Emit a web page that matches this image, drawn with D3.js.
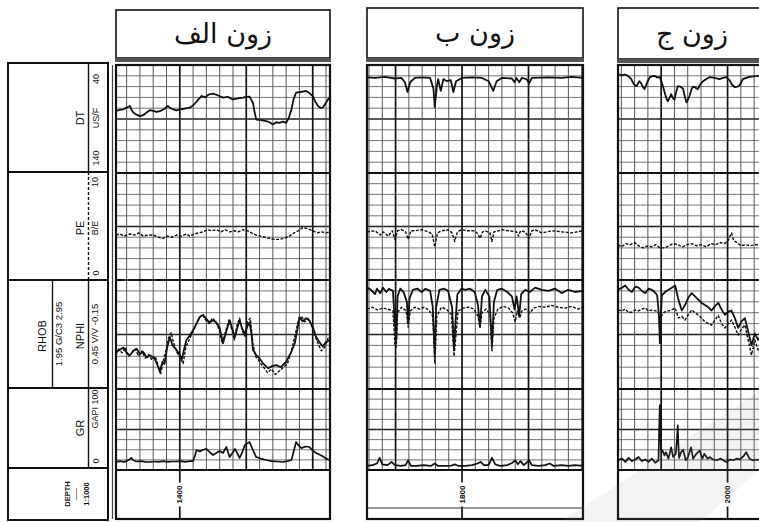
<!DOCTYPE html>
<html><head><meta charset="utf-8">
<script src="https://cdn.jsdelivr.net/npm/d3@7"></script>
<style>body{margin:0;background:#fff}svg{display:block}</style>
</head><body><svg id="c" width="759" height="522"></svg>
<script>
// ---------------- DATA ----------------
const trackTitles = ["زون الف", "زون ب", "زون ج"];
const depthDomains = [[1390.4, 1422.6], [1785.7, 1818.2], [1983.5, 2009.4]];
const depthLabels = [1400, 1800, 2000];
const dtScaleVals = [140, 40];
const peScaleVals = [0, 10];
const rhobScaleVals = [1.95, 2.95];
const nphiScaleVals = [0.45, -0.15];
const grScaleVals = [0, 100];

// Track 1 (زون الف)
const dt1 = [[1390.4,82.7],[1390.9,81.5],[1391.5,81],[1392,79.5],[1392.5,78],[1392.8,82],[1393,84],[1393.5,86],[1394,87.4],[1394.5,86.5],[1395,84],[1395.5,81.8],[1396,82.5],[1396.5,83.5],[1397,82.7],[1397.6,81],[1398.2,78],[1398.6,80],[1399,81],[1399.5,82],[1400,81],[1400.7,80.5],[1401.5,79.5],[1402,77.5],[1402.5,74],[1402.8,71.8],[1403.3,68.7],[1403.8,70],[1404.3,67.5],[1405,66.5],[1405.7,68],[1406.5,70.2],[1407.2,69.5],[1408,71.8],[1408.8,71],[1409.5,70.2],[1410,69.5],[1410.5,69.3],[1411,74.9],[1411.3,85],[1411.5,90.5],[1412.2,91],[1413,92],[1413.5,93],[1414,95],[1414.5,93],[1415,93.5],[1415.5,92.5],[1416,93.5],[1416.4,89],[1416.8,81],[1417.1,72],[1417.5,65.5],[1418.2,65],[1419,64],[1419.5,66],[1420,68.7],[1420.4,74],[1420.8,78],[1421.2,79.8],[1421.5,79.5],[1422,75],[1422.3,71.8],[1422.6,70]];
const pe1 = [[1390.4,4.2],[1391.0,4.3],[1391.6,4.1],[1392.5,4.3],[1393.2,4.2],[1393.8,4.4],[1394.5,4.1],[1395.2,4.2],[1396,4.2],[1396.8,4.0],[1397.5,3.9],[1398.2,4.1],[1398.8,4.0],[1399.5,4.2],[1400.3,4.1],[1401,4.3],[1401.5,4.1],[1402.2,4.3],[1402.8,4.4],[1403.5,4.5],[1404.2,4.7],[1404.8,4.6],[1405.5,4.7],[1406.2,4.5],[1406.8,4.7],[1407.5,4.5],[1408.2,4.6],[1408.8,4.5],[1409.5,4.7],[1410.2,4.6],[1410.8,4.4],[1411.5,4.2],[1412.2,4.1],[1412.8,4.0],[1413.5,3.9],[1414.2,3.8],[1415,3.8],[1415.7,3.9],[1416.5,4.1],[1417.2,4.4],[1417.8,4.6],[1418.5,4.9],[1419.2,4.8],[1420,4.6],[1420.7,4.4],[1421.3,4.5],[1422,4.4],[1422.6,4.5]];
const rhob1 = [[1390.4,2.29],[1391.0,2.31],[1391.5,2.33],[1392.0,2.28],[1392.5,2.26],[1393.0,2.30],[1393.5,2.32],[1394.0,2.27],[1394.5,2.29],[1395.0,2.24],[1395.5,2.26],[1396.2,2.23],[1396.7,2.16],[1397.0,2.11],[1397.4,2.20],[1397.7,2.18],[1398.1,2.33],[1398.5,2.43],[1398.9,2.35],[1399.5,2.31],[1400.0,2.26],[1400.3,2.22],[1400.7,2.33],[1401.0,2.40],[1401.5,2.44],[1402.0,2.49],[1402.5,2.55],[1403.0,2.61],[1403.5,2.63],[1404.0,2.59],[1404.5,2.56],[1405.0,2.58],[1405.5,2.56],[1406.0,2.51],[1406.5,2.37],[1407.0,2.48],[1407.5,2.58],[1407.9,2.50],[1408.3,2.43],[1408.7,2.52],[1409.0,2.58],[1409.4,2.50],[1409.8,2.46],[1410.2,2.53],[1410.5,2.56],[1410.8,2.45],[1411.0,2.31],[1411.5,2.26],[1412.0,2.23],[1412.6,2.18],[1413.3,2.14],[1413.9,2.16],[1414.5,2.17],[1415.2,2.15],[1416.0,2.20],[1416.7,2.28],[1417.3,2.37],[1417.7,2.50],[1418.0,2.61],[1418.5,2.57],[1419.0,2.60],[1419.5,2.58],[1420.0,2.52],[1420.5,2.43],[1421.0,2.38],[1421.5,2.34],[1422.0,2.38],[1422.6,2.40]];
const nphi1 = [[1390.4,0.26],[1390.8,0.23],[1391.3,0.25],[1391.8,0.22],[1392.3,0.27],[1392.8,0.25],[1393.3,0.23],[1393.8,0.27],[1394.3,0.24],[1394.8,0.28],[1395.3,0.26],[1395.8,0.29],[1396.3,0.27],[1396.8,0.33],[1397.1,0.37],[1397.5,0.30],[1397.9,0.24],[1398.3,0.17],[1398.7,0.14],[1399.1,0.20],[1399.6,0.25],[1400.1,0.28],[1400.5,0.31],[1400.9,0.22],[1401.4,0.18],[1401.9,0.14],[1402.4,0.10],[1402.9,0.06],[1403.4,0.04],[1403.9,0.07],[1404.4,0.09],[1404.9,0.06],[1405.4,0.08],[1405.9,0.12],[1406.4,0.20],[1406.9,0.13],[1407.4,0.07],[1407.8,0.12],[1408.2,0.18],[1408.6,0.10],[1409.0,0.06],[1409.4,0.13],[1409.8,0.16],[1410.2,0.08],[1410.6,0.06],[1411.0,0.20],[1411.4,0.27],[1412.0,0.30],[1412.6,0.33],[1413.2,0.36],[1413.8,0.34],[1414.4,0.37],[1415.0,0.35],[1415.6,0.33],[1416.2,0.31],[1416.8,0.24],[1417.3,0.16],[1417.8,0.08],[1418.3,0.05],[1418.8,0.08],[1419.3,0.06],[1419.8,0.10],[1420.3,0.15],[1420.8,0.20],[1421.3,0.24],[1421.8,0.22],[1422.3,0.17],[1422.6,0.19]];
const gr1 = [[1390.4,10],[1391.0,11],[1391.6,10],[1392.0,11],[1392.4,13],[1392.7,15],[1393.0,12],[1393.5,10.5],[1394.2,11],[1394.8,10],[1395.5,9.9],[1396.2,10.5],[1396.8,10],[1397.5,11],[1398.2,10],[1398.8,10.5],[1399.5,10.5],[1400.2,11],[1400.8,10],[1401.5,11],[1402.0,11],[1402.3,18],[1402.5,24.7],[1403.0,23],[1403.5,25],[1404.0,26],[1404.5,22],[1405.0,18.5],[1405.5,21],[1406.0,23.5],[1406.5,21],[1407.0,28.4],[1407.5,16],[1408.0,22],[1408.3,26],[1408.7,20],[1409.0,14.8],[1409.4,22],[1409.8,31],[1410.2,33],[1410.5,34.6],[1411.0,24.7],[1411.5,16],[1412.2,14],[1413.0,12.3],[1413.8,11],[1414.6,10.5],[1415.5,9.9],[1416.2,11],[1416.8,12.3],[1417.1,22],[1417.5,34.6],[1417.9,30],[1418.3,27],[1418.9,29],[1419.5,28.4],[1420.0,24],[1420.5,21],[1421.0,19],[1421.5,17],[1422.0,14],[1422.6,12]];

// Track 2 (زون ب)
const dt2 = [[1785.7,51.5],[1786.9,52],[1788.4,51],[1789.9,52.5],[1790.9,52],[1791.4,56],[1791.8,65],[1792.2,56],[1792.9,52],[1793.9,51.5],[1795.2,52],[1795.7,62],[1795.9,79],[1796.2,60],[1796.4,53],[1796.8,64],[1797.2,53],[1797.7,55],[1798.3,54],[1798.7,65],[1799.1,55],[1800,52],[1801.5,51.5],[1803,52],[1804,55],[1804.7,64],[1805.2,55],[1806,52],[1807.5,52.5],[1807.9,56],[1808.2,52],[1808.6,56],[1809,52],[1809.7,53],[1810.1,57],[1810.5,52],[1813,51.5],[1815,52],[1816.5,51],[1818.2,52]];
const pe2 = [[1785.7,4.5],[1786.9,4.6],[1787.7,4.2],[1788.1,4.5],[1788.9,4.1],[1789.5,4.6],[1789.9,3.8],[1790.3,4.6],[1790.9,4.7],[1791.5,4.5],[1791.9,3.8],[1792.3,4.6],[1792.9,4.6],[1793.9,4.7],[1794.9,4.5],[1795.5,4.3],[1795.9,3.1],[1796.3,4.4],[1796.9,4.6],[1797.9,4.7],[1798.5,4.4],[1798.9,3.6],[1799.3,4.5],[1799.9,4.7],[1800.9,4.6],[1801.9,4.6],[1802.4,4.3],[1802.7,3.9],[1803.1,4.5],[1803.5,4.6],[1804.2,4.4],[1804.5,3.6],[1804.8,4.5],[1805.5,4.6],[1806,4.7],[1807,4.6],[1808.2,4.5],[1808.5,4.1],[1808.8,4.6],[1809.5,4.5],[1810.1,3.9],[1810.5,4.6],[1811,4.7],[1812,4.4],[1813.5,4.6],[1815,4.5],[1816.5,4.4],[1818.2,4.6]];
const rhob2 = [[1785.7,2.88],[1786.3,2.86],[1786.9,2.82],[1787.2,2.87],[1787.7,2.83],[1788.1,2.88],[1788.6,2.84],[1789.0,2.87],[1789.6,2.85],[1789.9,2.55],[1790.1,2.40],[1790.3,2.80],[1790.7,2.87],[1791.2,2.84],[1791.7,2.75],[1791.9,2.55],[1792.1,2.78],[1792.6,2.86],[1793.3,2.87],[1793.9,2.84],[1794.5,2.87],[1795.2,2.85],[1795.6,2.70],[1795.9,2.25],[1796.1,2.70],[1796.6,2.86],[1797.3,2.87],[1797.9,2.85],[1798.5,2.70],[1798.8,2.32],[1799.0,2.55],[1799.3,2.82],[1799.9,2.87],[1800.5,2.86],[1801.2,2.87],[1801.9,2.84],[1802.4,2.72],[1802.7,2.52],[1803.0,2.80],[1803.5,2.86],[1804.1,2.80],[1804.5,2.36],[1804.8,2.75],[1805.3,2.86],[1806.0,2.87],[1806.8,2.84],[1807.5,2.80],[1807.9,2.68],[1808.2,2.80],[1808.6,2.62],[1808.9,2.82],[1809.5,2.86],[1810.2,2.84],[1811.0,2.88],[1812.0,2.86],[1813.0,2.85],[1814.0,2.87],[1815.0,2.83],[1816.0,2.86],[1817.0,2.84],[1818.2,2.85]];
const nphi2 = [[1785.7,0.01],[1786.5,0.00],[1787.3,0.015],[1788.0,0.005],[1788.8,0.01],[1789.6,0.02],[1789.9,0.20],[1790.1,0.22],[1790.3,0.03],[1790.9,0.00],[1791.6,0.02],[1791.9,0.11],[1792.2,0.02],[1792.9,0.00],[1793.6,0.01],[1794.3,0.00],[1795.0,0.015],[1795.6,0.05],[1795.9,0.31],[1796.2,0.05],[1796.9,0.00],[1797.6,0.01],[1798.4,0.04],[1798.8,0.27],[1799.1,0.15],[1799.4,0.02],[1800.2,0.005],[1801.0,0.00],[1801.8,0.01],[1802.4,0.05],[1802.7,0.11],[1803.0,0.03],[1803.6,0.01],[1804.2,0.04],[1804.5,0.24],[1804.8,0.06],[1805.4,0.01],[1806.2,-0.005],[1807.0,0.005],[1807.6,0.03],[1808.0,0.08],[1808.3,0.02],[1808.7,0.06],[1809.0,0.02],[1809.6,0.01],[1810.2,0.03],[1810.8,0.005],[1811.6,-0.005],[1812.5,0.00],[1813.5,-0.01],[1814.5,0.00],[1815.5,0.005],[1816.5,-0.005],[1817.5,0.01],[1818.2,0.00]];
const gr2 = [[1785.7,5],[1786.5,6],[1787.2,8],[1787.6,15],[1788.0,7],[1788.8,6],[1789.4,10],[1789.9,6],[1790.8,5],[1791.5,6],[1791.9,12],[1792.3,5],[1793.2,5],[1794.2,6],[1795.3,5],[1795.9,8],[1796.4,5],[1797.4,5],[1798.4,5.5],[1798.9,7],[1799.5,5],[1800.5,5],[1801.5,6],[1802.3,8],[1802.8,10],[1803.3,6],[1804.0,6],[1804.5,15],[1805.0,7],[1805.8,5],[1806.8,6],[1807.6,9],[1808.0,12],[1808.4,7],[1808.8,11],[1809.3,6],[1810.1,12],[1810.5,6],[1811.5,5],[1812.5,6],[1813.2,8],[1813.8,5],[1815,6],[1816,5],[1817,6],[1818.2,5]];

// Track 3 (زون ج)
const dt3 = [[1983.5,48.4],[1984.0,49.5],[1984.5,48.8],[1985.0,50],[1985.5,53],[1985.9,58],[1986.3,59.6],[1986.7,55],[1987.0,57],[1987.3,61],[1987.5,62.4],[1987.9,56],[1988.3,51.2],[1988.6,50.5],[1989.0,50],[1989.4,51.5],[1989.8,51.2],[1990.2,58],[1990.5,65],[1990.8,71],[1991.0,73.6],[1991.3,70],[1991.5,67],[1991.8,71],[1992.0,72],[1992.3,64],[1992.5,59.6],[1992.9,60],[1993.3,62],[1993.6,70],[1993.8,74.6],[1994.1,71],[1994.3,68],[1994.6,62],[1994.8,60],[1995.2,61],[1995.5,62.4],[1995.9,58],[1996.3,55],[1996.8,53],[1997.3,51.2],[1998.0,52],[1998.8,53],[1999.3,52],[1999.8,51.2],[2000.3,54],[2000.6,57.8],[2001.1,60.6],[2001.5,60],[2001.8,59],[2002.3,53],[2002.8,52],[2003.3,51],[2004.3,50.3],[2004.8,50],[2005.5,51]];
const pe3 = [[1983.5,3.3],[1984.0,3.1],[1984.7,3.4],[1985.3,3.3],[1986.0,3.5],[1986.6,3.2],[1987.3,3.0],[1988.0,3.2],[1988.6,3.1],[1989.2,3.3],[1989.8,3.0],[1990.5,3.0],[1991.2,3.2],[1991.8,3.4],[1992.5,3.3],[1993.2,3.1],[1993.9,3.3],[1994.6,3.4],[1995.3,3.2],[1996.0,3.3],[1996.8,3.1],[1997.5,3.4],[1998.2,3.3],[1998.9,3.5],[1999.5,3.4],[2000.0,3.6],[2000.6,4.4],[2000.9,3.7],[2001.4,3.5],[2002.0,3.2],[2002.7,3.3],[2003.4,3.2],[2004.2,3.3],[2004.8,3.3],[2005.5,3.4]];
const rhob3 = [[1983.5,2.86],[1984.1,2.88],[1984.6,2.90],[1985.1,2.86],[1985.6,2.84],[1986.1,2.89],[1986.6,2.88],[1987.1,2.85],[1987.6,2.83],[1988.1,2.87],[1988.6,2.86],[1989.0,2.84],[1989.4,2.81],[1989.7,2.60],[1989.8,2.37],[1989.95,2.60],[1990.1,2.81],[1990.6,2.84],[1991.1,2.86],[1991.6,2.88],[1992.1,2.90],[1992.6,2.77],[1993.1,2.67],[1993.6,2.72],[1994.1,2.79],[1994.6,2.83],[1995.1,2.80],[1995.6,2.77],[1996.1,2.74],[1996.6,2.72],[1997.1,2.70],[1997.6,2.67],[1998.1,2.71],[1998.6,2.74],[1999.1,2.68],[1999.6,2.63],[2000.1,2.66],[2000.6,2.67],[2001.1,2.60],[2001.6,2.51],[2002.1,2.57],[2002.6,2.60],[2003.1,2.48],[2003.6,2.35],[2004.1,2.46],[2004.6,2.40],[2005.2,2.44]];
const nphi3 = [[1983.5,0.015],[1984.1,0.02],[1984.6,0.01],[1985.1,0.03],[1985.6,0.026],[1986.1,0.015],[1986.6,0.02],[1987.1,0.01],[1987.6,0.004],[1988.1,0.02],[1988.6,0.015],[1989.2,0.02],[1989.6,0.03],[1989.8,0.15],[1990.0,0.05],[1990.5,0.026],[1991.1,0.02],[1991.6,0.015],[1992.1,0.004],[1992.6,0.059],[1993.1,0.05],[1993.6,0.07],[1994.1,0.04],[1994.6,0.015],[1995.1,0.03],[1995.6,0.043],[1996.1,0.06],[1996.6,0.081],[1997.1,0.09],[1997.6,0.098],[1998.1,0.07],[1998.6,0.045],[1999.1,0.09],[1999.6,0.114],[2000.1,0.09],[2000.6,0.07],[2001.1,0.11],[2001.6,0.153],[2002.1,0.12],[2002.6,0.098],[2003.1,0.18],[2003.6,0.263],[2004.1,0.18],[2004.6,0.235],[2005.2,0.21]];
const gr3 = [[1983.5,12],[1984.1,14],[1984.6,10],[1985.1,15],[1985.6,11],[1986.1,13],[1986.6,16],[1987.1,11],[1987.6,13],[1988.1,10],[1988.6,14],[1989.1,9],[1989.6,12],[1989.7,50],[1989.8,80],[1989.9,40],[1990.0,25],[1990.2,24],[1990.5,18],[1990.7,22],[1991.1,14],[1991.5,28],[1991.8,16],[1992.2,20],[1992.4,40],[1992.5,55],[1992.6,30],[1992.7,15],[1993.0,22],[1993.3,25],[1993.7,12],[1994.0,15],[1994.5,28],[1994.8,14],[1995.3,20],[1995.8,24],[1996.2,14],[1996.5,20],[1997.0,14],[1997.3,16],[1997.8,13],[1998.3,12],[1999.0,14],[1999.8,10],[2000.4,13],[2000.8,12],[2001.4,14],[2001.8,13],[2002.4,17],[2002.8,22],[2003.3,14],[2003.8,12],[2004.8,13],[2005.5,12]];

const tracksData = [
  {dt: dt1, pe: pe1, rhob: rhob1, nphi: nphi1, gr: gr1},
  {dt: dt2, pe: pe2, rhob: rhob2, nphi: nphi2, gr: gr2},
  {dt: dt3, pe: pe3, rhob: rhob3, nphi: nphi3, gr: gr3}
];

// ---------------- LAYOUT ----------------
const trackX = [[116, 330], [367, 583], [618, 790]];
const rowY = [65, 173, 280, 389, 470, 519];
const rowDiv = [10, 10, 10, 8];
const headerY = [[10, 58], [8, 58], [8, 59]];
const titleX = [223, 475, 692];

const svg = d3.select("#c");
const defs = svg.append("defs");

tracksData.forEach((td, i) => {
  const [x0, x1] = trackX[i];
  const [d0, d1] = depthDomains[i];
  const x = d3.scaleLinear().domain([d0, d1]).range([x0, x1]);
  const g = svg.append("g");

  defs.append("clipPath").attr("id", "clip" + i)
    .append("rect").attr("x", x0).attr("y", rowY[0]).attr("width", x1 - x0).attr("height", rowY[5] - rowY[0]);

  // header box
  const [hy0, hy1] = headerY[i];
  g.append("rect").attr("x", x0).attr("y", hy0).attr("width", x1 - x0).attr("height", hy1 - hy0)
    .attr("fill", "#fff").attr("stroke", "#111").attr("stroke-width", 1.6);
  g.append("rect").attr("x", x0 - 1).attr("y", hy1).attr("width", x1 - x0 + 2).attr("height", 4)
    .attr("fill", "#555");
  g.append("text").attr("x", titleX[i]).attr("y", (hy0 + hy1) / 2 + 9)
    .attr("text-anchor", "middle").attr("direction", "rtl")
    .attr("font-family", "DejaVu Sans").attr("font-size", 27).attr("fill", "#111")
    .text(trackTitles[i]);

  const grid = g.append("g").attr("clip-path", "url(#clip" + i + ")");

  // horizontal grid lines in each curve row
  for (let r = 0; r < 4; r++) {
    const n = rowDiv[r];
    for (let k = 1; k < n; k++) {
      const yy = rowY[r] + k * (rowY[r + 1] - rowY[r]) / n;
      const major = k === n / 2;
      grid.append("line").attr("x1", x0).attr("x2", x1).attr("y1", yy).attr("y2", yy)
        .attr("stroke", major ? "#222" : "#777").attr("stroke-width", major ? 1.4 : 1);
    }
  }
  // vertical depth lines
  const ticks = d3.range(Math.ceil(d0 / 2) * 2, d1, 2);
  ticks.forEach(t => {
    const major = t % 10 === 0;
    grid.append("line").attr("x1", x(t)).attr("x2", x(t)).attr("y1", rowY[0]).attr("y2", rowY[4])
      .attr("stroke", major ? "#111" : "#555").attr("stroke-width", major ? 1.7 : 1);
  });
  // depth row line and label
  const lx = x(depthLabels[i]);
  grid.append("line").attr("x1", lx).attr("x2", lx).attr("y1", rowY[4]).attr("y2", rowY[5])
    .attr("stroke", "#111").attr("stroke-width", 1.7);
  if (i === 1) {
    grid.append("line").attr("x1", x0).attr("x2", x1).attr("y1", 508).attr("y2", 508)
      .attr("stroke", "#333").attr("stroke-width", 1.2);
  }
  const ly = (rowY[4] + rowY[5]) / 2;
  grid.append("rect").attr("x", lx - 4.5).attr("y", ly - 12).attr("width", 9).attr("height", 24).attr("fill", "#fff");
  grid.append("text").attr("transform", `translate(${lx},${ly}) rotate(-90)`)
    .attr("text-anchor", "middle").attr("dominant-baseline", "central")
    .attr("font-family", "Liberation Sans").attr("font-size", 8).attr("font-weight", "bold")
    .attr("fill", "#111").text(depthLabels[i]);

  // row dividers
  for (let r = 1; r < 5; r++) {
    grid.append("line").attr("x1", x0).attr("x2", x1).attr("y1", rowY[r]).attr("y2", rowY[r])
      .attr("stroke", "#111").attr("stroke-width", 2);
  }

  // curves
  const yDT = d3.scaleLinear().domain(dtScaleVals).range([rowY[1], rowY[0]]);
  const yPE = d3.scaleLinear().domain(peScaleVals).range([rowY[2], rowY[1]]);
  const yRH = d3.scaleLinear().domain(rhobScaleVals).range([rowY[3], rowY[2]]);
  const yNP = d3.scaleLinear().domain(nphiScaleVals).range([rowY[3], rowY[2]]);
  const yGR = d3.scaleLinear().domain(grScaleVals).range([rowY[4], rowY[3]]);
  const mk = ys => d3.line().x(d => x(d[0])).y(d => ys(d[1]));

  const curves = g.append("g").attr("clip-path", "url(#clip" + i + ")")
    .attr("fill", "none").attr("stroke", "#111").attr("stroke-linejoin", "round");
  curves.append("path").attr("d", mk(yDT)(td.dt)).attr("stroke-width", 1.8);
  curves.append("path").attr("d", mk(yPE)(td.pe)).attr("stroke-width", 1.4).attr("stroke-dasharray", "3,1.5");
  curves.append("path").attr("d", mk(yNP)(td.nphi)).attr("stroke-width", 1.4).attr("stroke-dasharray", "3,1.5");
  curves.append("path").attr("d", mk(yRH)(td.rhob)).attr("stroke-width", 1.8);
  curves.append("path").attr("d", mk(yGR)(td.gr)).attr("stroke-width", 1.7);

  // track border
  g.append("rect").attr("x", x0).attr("y", rowY[0]).attr("width", x1 - x0).attr("height", rowY[5] - rowY[0])
    .attr("fill", "none").attr("stroke", "#111").attr("stroke-width", 2.2);
});
// double left edge of first track
svg.append("line").attr("x1", 112.5).attr("x2", 112.5).attr("y1", 65).attr("y2", 519)
  .attr("stroke", "#444").attr("stroke-width", 1.2);

// faint watermark
svg.append("path")
  .attr("d", "M560,522 L700,522 L759,470 L759,392 L700,430 L640,470 Z")
  .attr("fill", "#8a8a8a").attr("opacity", 0.10);

// ---------------- LEFT HEADER PANEL ----------------
const lp = svg.append("g").attr("font-family", "Liberation Sans").attr("fill", "#111");
const pY = [63, 172, 280, 388, 468, 520];
lp.append("rect").attr("x", 8).attr("y", pY[0]).attr("width", 100).attr("height", pY[5] - pY[0])
  .attr("fill", "#fff").attr("stroke", "#111").attr("stroke-width", 2);
for (let r = 1; r < 5; r++) {
  lp.append("line").attr("x1", 8).attr("x2", 108).attr("y1", pY[r]).attr("y2", pY[r])
    .attr("stroke", "#111").attr("stroke-width", 1.8);
}
// sample lines
const sampleLine = (xx, ya, yb, dash) => lp.append("line").attr("x1", xx).attr("x2", xx).attr("y1", ya).attr("y2", yb)
  .attr("stroke", "#111").attr("stroke-width", 1.4).attr("stroke-dasharray", dash || null);
sampleLine(88.5, pY[0], pY[1]);
sampleLine(88.5, pY[1], pY[2], "3,2");
sampleLine(88.5, pY[2], pY[3]);
sampleLine(88.5, pY[3], pY[4]);
sampleLine(52.5, pY[2], pY[3]);

const rt = (xx, yy, txt, size, weight) => lp.append("text")
  .attr("transform", `translate(${xx},${yy}) rotate(-90)`)
  .attr("text-anchor", "middle").attr("dominant-baseline", "central")
  .attr("font-size", size).attr("font-weight", weight || "normal").text(txt);

// DT
rt(80, 118, "DT", 11);
rt(96, 79, dtScaleVals[1], 9);
rt(96, 118, "US/F", 9);
rt(96, 158, dtScaleVals[0], 9);
// PE
rt(80, 228, "PE", 11);
rt(95, 182, peScaleVals[1], 9);
rt(95, 228, "B/E", 9);
rt(96, 273, peScaleVals[0], 9);
// RHOB / NPHI
rt(42, 336, "RHOB", 11);
rt(58, 334, rhobScaleVals[0].toFixed(2) + "  G/C3  " + rhobScaleVals[1].toFixed(2), 9.5);
rt(80, 336, "NPHI", 11);
rt(94, 334, nphiScaleVals[0].toFixed(2) + "  V/V  " + nphiScaleVals[1].toFixed(2), 9.5);
// GR
rt(80, 428, "GR", 11);
rt(95, 409, "GAPI " + grScaleVals[1], 9);
rt(96, 461, grScaleVals[0], 9);
// DEPTH
rt(67, 494, "DEPTH", 7.5, "bold");
rt(76, 494, "——", 6, "bold");
rt(86, 494, "1:1000", 7.5, "bold");
</script></body></html>
